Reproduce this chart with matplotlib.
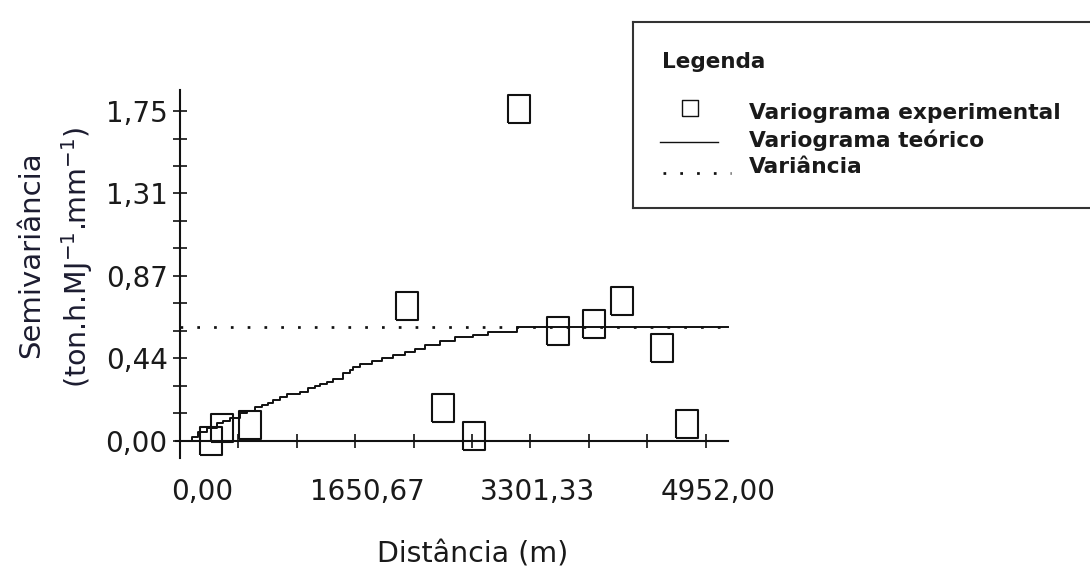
import numpy as np
import matplotlib
matplotlib.use("Agg")
import matplotlib.pyplot as plt
import matplotlib.transforms as mtransforms
from matplotlib.ticker import FixedLocator, MultipleLocator

# experimental variogram (lag distance in m, semivariance)
lag_dist = [289, 393, 659, 2137, 2480, 2772, 3192, 3558, 3897, 4164, 4541, 4776]
semivar = [0.00, 0.067, 0.085, 0.713, 0.172, 0.024, 1.762, 0.58, 0.62, 0.744, 0.49, 0.087]

# fitted (theoretical) variogram
model_dist = [0, 31, 110, 173, 251, 345, 408, 471, 565, 628, 707, 769, 832, 879,
              942, 1005, 1130, 1209, 1272, 1319, 1382, 1444, 1539, 1601, 1633,
              1696, 1806, 1900, 2010, 2120, 2214, 2308, 2449, 2591, 2763, 2905,
              3172, 5162]
model_gamma = [0.0, 0.0, 0.021, 0.048, 0.066, 0.092, 0.105, 0.119, 0.145, 0.159,
               0.180, 0.190, 0.202, 0.216, 0.234, 0.246, 0.257, 0.278, 0.290,
               0.301, 0.313, 0.327, 0.358, 0.375, 0.389, 0.407, 0.425, 0.437,
               0.455, 0.472, 0.487, 0.508, 0.531, 0.549, 0.561, 0.579, 0.605,
               0.605]

variance = 0.605
variance_dist = [0, 5162]

x_ticks = [0, 1650.67, 3301.33, 4952.0]
x_labels = ["0,00", "1650,67", "3301,33", "4952,00"]
y_ticks = [0, 0.4375, 0.875, 1.3125, 1.75]
y_labels = ["0,00", "0,44", "0,87", "1,31", "1,75"]

W, H = 1090, 574
fig = plt.figure(figsize=(W / 100, H / 100), dpi=100)
fig.patch.set_facecolor("white")

# main axes (pixel box converted to figure fraction)
ax = fig.add_axes([176.3 / W, 1 - 457.7 / H, (728 - 176.3) / W, (457.7 - 90.3) / H])
ax.set_xlim(-35, 5162)
ax.set_ylim(-0.09, 1.86)

ink = "#111111"
rect_marker = [(-0.41, -0.5), (0.41, -0.5), (0.41, 0.5), (-0.41, 0.5), (-0.41, -0.5)]

ax.plot(variance_dist, [variance, variance], color=ink, lw=1.95,
        linestyle=(0, (1, 5.2)), clip_on=False)
ax.plot(model_dist, model_gamma, color=ink, lw=1.4, drawstyle="steps-post",
        clip_on=False)
ax.plot(lag_dist, semivar, linestyle="none", marker=rect_marker, markersize=19.5,
        markerfacecolor="none", markeredgecolor=ink, markeredgewidth=1.5,
        clip_on=False)

for s in ["top", "right"]:
    ax.spines[s].set_visible(False)
ax.spines["left"].set_position(("data", 0))
ax.spines["bottom"].set_position(("data", 0))
for s in ["left", "bottom"]:
    ax.spines[s].set_linewidth(1.5)
    ax.spines[s].set_color(ink)

ax.xaxis.set_major_locator(FixedLocator(x_ticks))
ax.xaxis.set_minor_locator(MultipleLocator(4952 / 9))
ax.set_xticklabels(x_labels)
ax.yaxis.set_major_locator(FixedLocator(y_ticks))
ax.yaxis.set_minor_locator(MultipleLocator(1.75 / 12))
ax.set_yticklabels(y_labels)

ax.tick_params(axis="both", which="both", direction="inout", length=10,
               width=1.2, color=ink)
ax.tick_params(axis="x", which="major", pad=22, labelsize=20, labelcolor="#1a1a1a")
ax.tick_params(axis="y", which="major", pad=4, labelsize=20, labelcolor="#1a1a1a")

# the original software pushes the x labels a little to the right
for lab, dx in zip(ax.get_xticklabels(), [22, 12, 7, 12]):
    lab.set_transform(lab.get_transform() +
                      mtransforms.ScaledTranslation(dx / 100, 0, fig.dpi_scale_trans))

fig.text(473 / W, 1 - 555 / H, "Distância (m)", ha="center", va="center",
         fontsize=20.5, color="#1a1a1a")
fig.text(31 / W, 1 - 255 / H, "Semivariância", rotation=90, ha="center",
         va="center", fontsize=21, color="#1c1c30")
fig.text(77 / W, 1 - 257 / H, r"(ton.h.MJ$^{-1}$.mm$^{-1}$)", rotation=90,
         ha="center", va="center", fontsize=20.5, color="#1c1c30")

# legend box, drawn in pixel coordinates; runs off the right edge like the original
lg = fig.add_axes([633 / W, 1 - 208 / H, (1100 - 633) / W, (208 - 22) / H])
lg.set_xlim(633, 1100)
lg.set_ylim(208, 22)
lg.set_xticks([])
lg.set_yticks([])
for s in lg.spines.values():
    s.set_linewidth(1.5)
    s.set_color("#333333")

legend_marker = [(-0.5, -0.45), (0.5, -0.45), (0.5, 0.45), (-0.5, 0.45), (-0.5, -0.45)]
lg.text(662, 62, "Legenda", fontsize=15.5, fontweight="bold", va="center",
        color="#1a1a1a")
lg.plot([690], [107.5], linestyle="none", marker=legend_marker, markersize=12,
        markerfacecolor="none", markeredgecolor=ink, markeredgewidth=1.0)
lg.plot([660, 718], [142, 142], color=ink, lw=1.0)
lg.plot([663, 731], [173, 173], color=ink, lw=1.95, linestyle=(0, (1, 5.2)))
lg.text(749, 113, "Variograma experimental", fontsize=15.7, fontweight="bold",
        va="center", color="#1a1a1a")
lg.text(749, 140, "Variograma teórico", fontsize=15.7, fontweight="bold",
        va="center", color="#1a1a1a")
lg.text(749, 167, "Variância", fontsize=15.7, fontweight="bold",
        va="center", color="#1a1a1a")

fig.savefig("out.png", dpi=100)
